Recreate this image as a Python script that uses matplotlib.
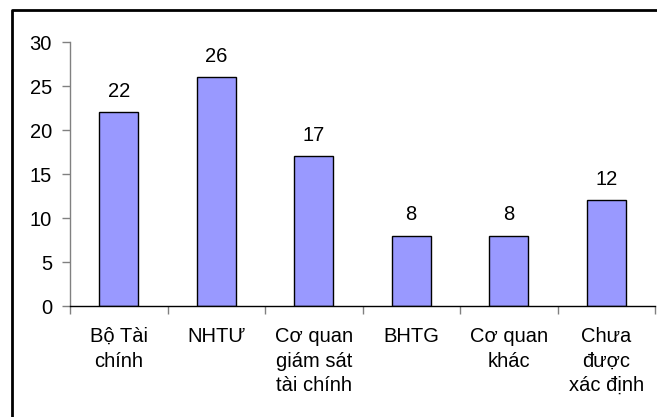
import matplotlib
matplotlib.use("Agg")
import matplotlib.pyplot as plt
from matplotlib.lines import Line2D

plt.rcParams['font.family'] = ['Liberation Sans', 'DejaVu Sans']

categories = ["Bộ Tài\nchính", "NHTƯ", "Cơ quan\ngiám sát\ntài chính",
              "BHTG", "Cơ quan\nkhác", "Chưa\nđược\nxác định"]
values = [22, 26, 17, 8, 8, 12]
yticks = [0, 5, 10, 15, 20, 25, 30]

FS = 14.5
W, H = 657, 417
fig = plt.figure(figsize=(W / 100, H / 100), dpi=100)
ax = fig.add_axes([70 / W, 1 - 306 / H, (655 - 70) / W, (306 - 42) / H])

x = list(range(len(categories)))
bars = ax.bar(x, values, width=0.4, color="#9999FF", edgecolor="black", linewidth=1.0)

for xi, v in zip(x, values):
    ax.annotate(f"{v}", (xi, v), xytext=(0, 8), textcoords="offset points",
                ha="center", va="bottom", fontsize=FS)

ax.set_xlim(-0.5, len(categories) - 0.5)
ax.set_ylim(0, 30)
ax.set_yticks(yticks)
ax.set_yticklabels([str(t) for t in yticks], fontsize=FS)

# category boundaries carry the x ticks
ax.set_xticks([i - 0.5 for i in range(len(categories) + 1)], minor=False)
ax.set_xticklabels([])
ax.set_xticks(x, minor=True)
ax.set_xticklabels(categories, minor=True, fontsize=FS, linespacing=1.38)
ax.tick_params(axis="x", which="major", direction="out", length=6, color="#808080", width=1)
ax.tick_params(axis="x", which="minor", length=0, pad=15)
ax.tick_params(axis="y", direction="out", length=6, color="#808080", width=1, pad=7)

for side in ("top", "right"):
    ax.spines[side].set_visible(False)
ax.spines["left"].set_color("#808080")
ax.spines["bottom"].set_color("black")
ax.spines["left"].set_linewidth(1)
ax.spines["bottom"].set_linewidth(1)

# outer chart frame
fx = 12 / W
fy = 1 - 10 / H
fig.add_artist(Line2D([fx, fx, 1.0], [0.0, fy, fy], transform=fig.transFigure,
                      color="black", linewidth=2.0))

fig.savefig("out.png", dpi=100)
